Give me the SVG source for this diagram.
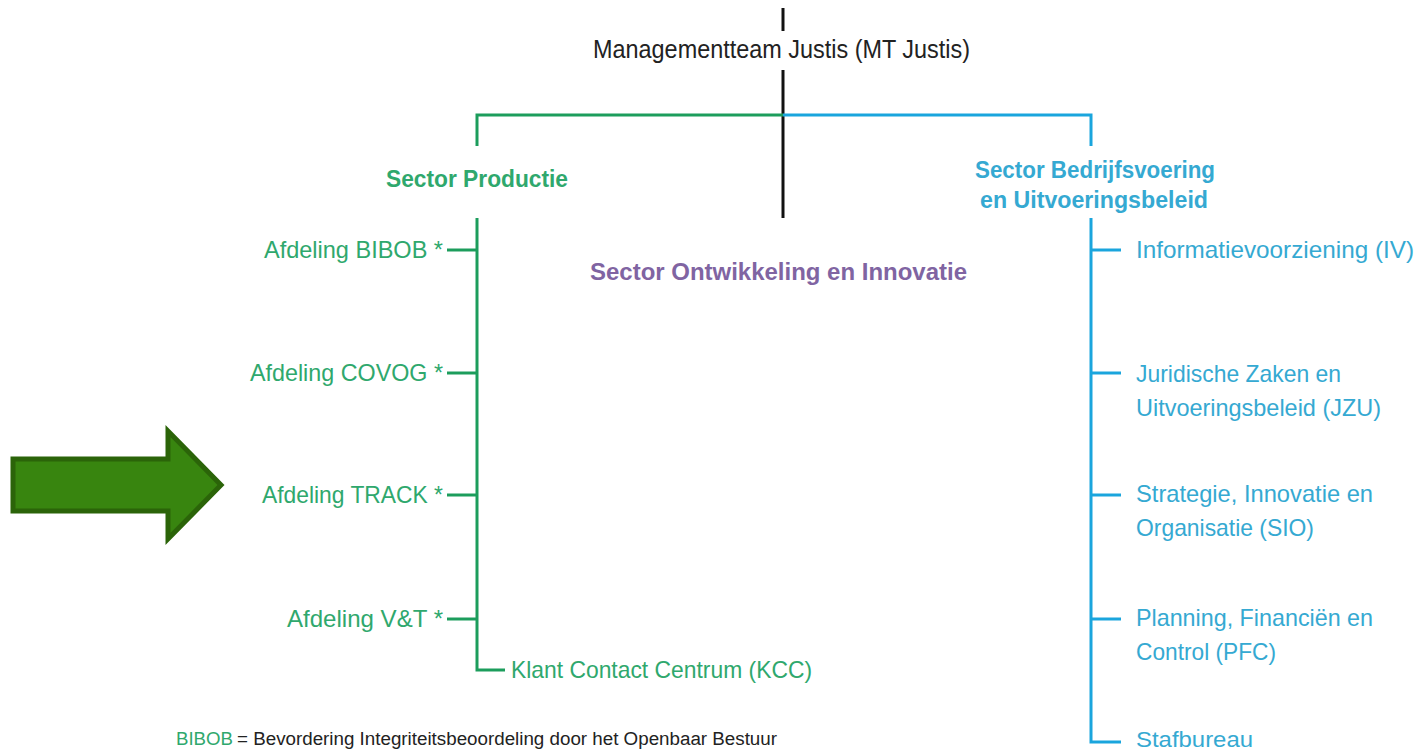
<svg xmlns="http://www.w3.org/2000/svg" width="1422" height="752" viewBox="0 0 1422 752">
<style>
text{font-family:"Liberation Sans",Arial,sans-serif;font-size:24px}
.g{fill:#2fa86d}
.b{fill:#35a9d2}
.p{fill:#8064a2}
.k{fill:#222}
.bold{font-weight:bold;font-size:23px}
.lg{stroke:#1c9d5c;stroke-width:3;fill:none}
.lb{stroke:#1aa5dd;stroke-width:3;fill:none}
.lk{stroke:#111;stroke-width:3;fill:none}
</style>
<rect width="1422" height="752" fill="#fff"/>
<g id="connectors">
<line class="lk" x1="783" y1="8" x2="783" y2="31"/>
<line class="lk" x1="783" y1="70" x2="783" y2="218"/>
<polyline class="lg" points="477,146 477,115 783,115"/>
<polyline class="lb" points="783,115 1091,115 1091,146"/>
<polyline class="lg" points="477,218 477,670 505,670"/>
<line class="lg" x1="447" y1="250" x2="477" y2="250"/>
<line class="lg" x1="447" y1="373" x2="477" y2="373"/>
<line class="lg" x1="447" y1="495" x2="477" y2="495"/>
<line class="lg" x1="447" y1="619" x2="477" y2="619"/>
<polyline class="lb" points="1091,218 1091,742 1121,742"/>
<line class="lb" x1="1091" y1="250" x2="1121" y2="250"/>
<line class="lb" x1="1091" y1="373" x2="1121" y2="373"/>
<line class="lb" x1="1091" y1="495" x2="1121" y2="495"/>
<line class="lb" x1="1091" y1="619" x2="1121" y2="619"/>
</g>
<g id="mt"><text class="k" x="593" y="58" textLength="377" lengthAdjust="spacingAndGlyphs" style="font-size:26px">Managementteam Justis (MT Justis)</text></g>
<g id="sector-productie"><text class="g bold" x="386" y="187" textLength="182" lengthAdjust="spacingAndGlyphs">Sector Productie</text></g>
<g id="sector-oi"><text class="p bold" x="590" y="280" textLength="377" lengthAdjust="spacingAndGlyphs">Sector Ontwikkeling en Innovatie</text></g>
<g id="sector-bu">
<text class="b bold" x="975" y="178" textLength="240" lengthAdjust="spacingAndGlyphs">Sector Bedrijfsvoering</text>
<text class="b bold" x="980" y="208" textLength="228" lengthAdjust="spacingAndGlyphs">en Uitvoeringsbeleid</text>
</g>
<g id="bibob"><text class="g" x="264" y="258" textLength="179" lengthAdjust="spacingAndGlyphs">Afdeling BIBOB *</text></g>
<g id="covog"><text class="g" x="250" y="381" textLength="193" lengthAdjust="spacingAndGlyphs">Afdeling COVOG *</text></g>
<g id="track"><text class="g" x="262" y="503" textLength="181" lengthAdjust="spacingAndGlyphs">Afdeling TRACK *</text></g>
<g id="vt"><text class="g" x="287" y="627" textLength="156" lengthAdjust="spacingAndGlyphs">Afdeling V&amp;T *</text></g>
<g id="kcc"><text class="g" x="511" y="678" textLength="301" lengthAdjust="spacingAndGlyphs">Klant Contact Centrum (KCC)</text></g>
<g id="iv"><text class="b" x="1136" y="258" textLength="278" lengthAdjust="spacingAndGlyphs">Informatievoorziening (IV)</text></g>
<g id="jzu">
<text class="b" x="1136" y="382" textLength="205" lengthAdjust="spacingAndGlyphs">Juridische Zaken en</text>
<text class="b" x="1136" y="416" textLength="245" lengthAdjust="spacingAndGlyphs">Uitvoeringsbeleid (JZU)</text>
</g>
<g id="sio">
<text class="b" x="1136" y="502" textLength="237" lengthAdjust="spacingAndGlyphs">Strategie, Innovatie en</text>
<text class="b" x="1136" y="536" textLength="178" lengthAdjust="spacingAndGlyphs">Organisatie (SIO)</text>
</g>
<g id="pfc">
<text class="b" x="1136" y="626" textLength="237" lengthAdjust="spacingAndGlyphs">Planning, Financiën en</text>
<text class="b" x="1136" y="660" textLength="140" lengthAdjust="spacingAndGlyphs">Control (PFC)</text>
</g>
<g id="stafbureau"><text class="b" x="1136" y="747" textLength="117" lengthAdjust="spacingAndGlyphs" style="font-size:22px">Stafbureau</text></g>
<g id="footnote">
<text class="g" x="176" y="745" textLength="57" lengthAdjust="spacingAndGlyphs" style="font-size:18px">BIBOB</text>
<text class="k" x="237" y="745" textLength="540" lengthAdjust="spacingAndGlyphs" style="font-size:18px">= Bevordering Integriteitsbeoordeling door het Openbaar Bestuur</text>
</g>
<g id="arrow"><polygon points="13,459 168,459 168,431 221,485 168,539 168,511 13,511" fill="#38850f" stroke="#2b6409" stroke-width="5" stroke-linejoin="miter"/></g>
</svg>
